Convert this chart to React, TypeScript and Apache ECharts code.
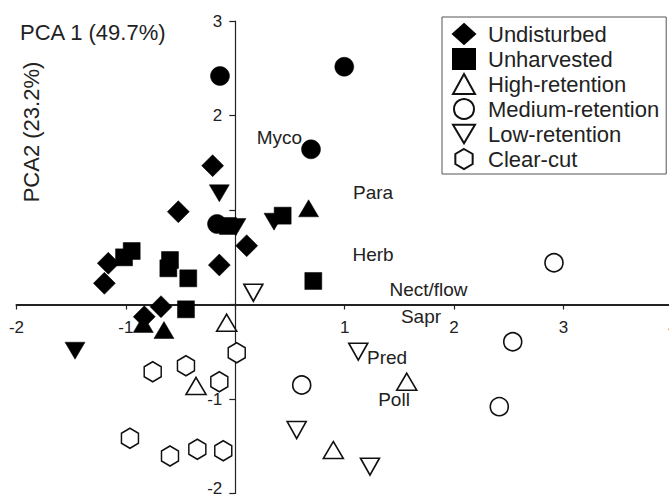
import React, { useEffect, useRef } from 'react';
import * as echarts from 'echarts';

// Sample scores (PCA 1, PCA 2)
const undisturbed = [[-0.207, 1.469], [-0.521, 0.982], [0.104, 0.622], [-0.146, 0.418], [-1.161, 0.436], [-1.197, 0.224], [-0.679, -0.023], [-0.832, -0.129]];
const unharvested = [[-0.947, 0.566], [-1.017, 0.499], [-0.597, 0.471], [-0.612, 0.383], [-0.43, 0.277], [-0.451, -0.051], [0.433, 0.94], [0.713, 0.249], [-0.067, 0.831]];
const highRetention = [[-0.079, -0.193], [-0.359, -0.862], [1.567, -0.817], [0.896, -1.54]];
const mediumRetention = [[2.913, 0.442], [2.536, -0.394], [0.607, -0.852], [2.413, -1.081]];
const lowRetention = [[0.165, 0.125], [1.124, -0.499], [0.561, -1.328], [1.231, -1.716]];
const clearCut = [[0.013, -0.51], [-0.451, -0.648], [-0.755, -0.711], [-0.146, -0.817], [-0.963, -1.416], [-0.597, -1.603], [-0.347, -1.532], [-0.11, -1.547]];
// Extra (filled) groups without legend entries
const filledCircles = [[-0.14, 2.418], [0.996, 2.516], [0.692, 1.642], [-0.167, 0.852]];
const filledDownTriangles = [[-0.146, 1.177], [0.354, 0.876], [-1.465, -0.489], [0.006, 0.82]];
const filledUpTriangles = [[0.67, 1.018], [-0.841, -0.206], [-0.652, -0.27]];

// Variable (trait) labels
const variableNames = ['Myco', 'Para', 'Herb', 'Nect/flow', 'Sapr', 'Pred', 'Poll'];
const variableX = [0.404, 1.259, 1.259, 1.766, 1.697, 1.387, 1.451];
const variableY = [1.772, 1.18, 0.524, 0.164, -0.132, -0.556, -1.0];

const legendNames = ['Undisturbed', 'Unharvested', 'High-retention', 'Medium-retention', 'Low-retention', 'Clear-cut'];
const xTicks = { min: -2, max: 4, interval: 1 };
const yTicks = { min: -2, max: 3, interval: 1 };

const FONT = '"Liberation Sans", Arial, Helvetica, sans-serif';
const HEX = 'path://M0,-10L8.66,-5L8.66,5L0,10L-8.66,5L-8.66,-5Z';
const DOWN = 'path://M-10,-8.5L10,-8.5L0,8.5Z';

const filled = { color: '#000', borderColor: '#000', borderWidth: 0.5, opacity: 1 };
const open = { color: '#fff', borderColor: '#111', borderWidth: 1.6, opacity: 1 };

// grid geometry
const GRID_LEFT = 16.5;
const GRID_RIGHT = -3.9;
const GRID_TOP = 21;
const GRID_BOTTOM = 4.5;
const W = 669;
const H = 498;

export default function App() {
  const ref = useRef<HTMLDivElement>(null);
  useEffect(() => {
    if (!ref.current) return;
    const chart = echarts.init(ref.current, undefined, { renderer: 'svg' });
    const plotW = W - GRID_LEFT - GRID_RIGHT;
    const plotH = H - GRID_TOP - GRID_BOTTOM;
    const zeroX = GRID_LEFT + ((0 - xTicks.min) / (xTicks.max - xTicks.min)) * plotW;
    const zeroY = GRID_TOP + ((yTicks.max - 0) / (yTicks.max - yTicks.min)) * plotH;
    const xOffset = -(GRID_TOP + plotH - zeroY);
    const yOffset = -(zeroX - GRID_LEFT);
    const option: any = {
      animation: false,
      backgroundColor: '#fff',
      title: {
        text: 'PCA 1 (49.7%)',
        left: 20,
        top: 21,
        padding: 0,
        textStyle: { fontSize: 22, fontWeight: 'normal', color: '#222', fontFamily: FONT },
      },
      graphic: [
        {
          type: 'text',
          x: 31,
          y: 132,
          rotation: Math.PI / 2,
          style: {
            text: 'PCA2 (23.2%)',
            font: `22px ${FONT}`,
            fill: '#222',
            align: 'center',
            verticalAlign: 'middle',
          },
        },
      ],
      legend: {
        data: legendNames,
        orient: 'vertical',
        left: 442,
        top: 17,
        padding: [6, 7, 4, 10],
        itemWidth: 22,
        itemHeight: 20,
        itemGap: 3,
        borderColor: '#555',
        borderWidth: 1,
        backgroundColor: '#fff',
        textStyle: { fontSize: 22, color: '#222', fontFamily: FONT, padding: [0, 0, 0, 8], lineHeight: 22 },
      },
      grid: {
        left: GRID_LEFT, right: GRID_RIGHT, top: GRID_TOP, bottom: GRID_BOTTOM,
        containLabel: false, outerBoundsMode: 'none',
      },
      xAxis: {
        type: 'value',
        min: xTicks.min,
        max: xTicks.max,
        interval: xTicks.interval,
        position: 'bottom',
        offset: xOffset,
        splitLine: { show: false },
        axisLine: { onZero: false, lineStyle: { color: '#222', width: 2 } },
        axisTick: { length: 5, lineStyle: { color: '#222', width: 1.2 } },
        axisLabel: {
          margin: 14.5,
          fontSize: 17,
          color: '#222',
          fontFamily: FONT,
          formatter: (v: number) => (v === 0 ? '' : String(v)),
        },
      },
      yAxis: {
        type: 'value',
        min: yTicks.min,
        max: yTicks.max,
        interval: yTicks.interval,
        position: 'left',
        offset: yOffset,
        splitLine: { show: false },
        axisLine: { onZero: false, lineStyle: { color: '#222', width: 1.2 } },
        axisTick: { length: 6, lineStyle: { color: '#222', width: 1.2 } },
        axisLabel: {
          margin: 13,
          fontSize: 17,
          color: '#222',
          fontFamily: FONT,
          formatter: (v: number) => {
            if (v === 0 || v === 1) return '';
            if (v === yTicks.min) return `{low|${v}}`;
            return String(v);
          },
          rich: {
            low: { fontSize: 17, color: '#222', fontFamily: FONT, padding: [0, 0, 10, 0] },
          },
        },
      },
      series: [
        { name: 'Variables', type: 'scatter', symbolSize: 0, z: 3,
          itemStyle: { opacity: 1 },
          data: variableNames.map((n, i) => ({ name: n, value: [variableX[i], variableY[i]] })),
          label: { show: true, position: 'inside', formatter: '{b}', fontSize: 19, color: '#222', fontFamily: FONT },
        },
        { name: 'Filled circles', type: 'scatter', symbol: 'circle', symbolSize: 19, data: filledCircles, itemStyle: filled },
        { name: 'Filled down', type: 'scatter', symbol: DOWN, symbolSize: [20, 17], data: filledDownTriangles, itemStyle: filled },
        { name: 'Filled up', type: 'scatter', symbol: 'triangle', symbolSize: [20, 17], data: filledUpTriangles, itemStyle: filled },
        { name: 'Undisturbed', type: 'scatter', symbol: 'diamond', symbolSize: 22, data: undisturbed, itemStyle: filled },
        { name: 'Unharvested', type: 'scatter', symbol: 'rect', symbolSize: 17, data: unharvested, itemStyle: filled },
        { name: 'High-retention', type: 'scatter', symbol: 'triangle', symbolSize: [20, 17], data: highRetention, itemStyle: open },
        { name: 'Medium-retention', type: 'scatter', symbol: 'circle', symbolSize: 18, data: mediumRetention, itemStyle: open },
        { name: 'Low-retention', type: 'scatter', symbol: DOWN, symbolSize: [19, 17], data: lowRetention, itemStyle: open },
        { name: 'Clear-cut', type: 'scatter', symbol: HEX, symbolSize: [17, 20], data: clearCut, itemStyle: open },
      ],
    };
    chart.setOption(option);
    return () => chart.dispose();
  }, []);
  return <div ref={ref} style={{ position: 'fixed', left: 0, top: 0, width: W, height: H }} />;
}
